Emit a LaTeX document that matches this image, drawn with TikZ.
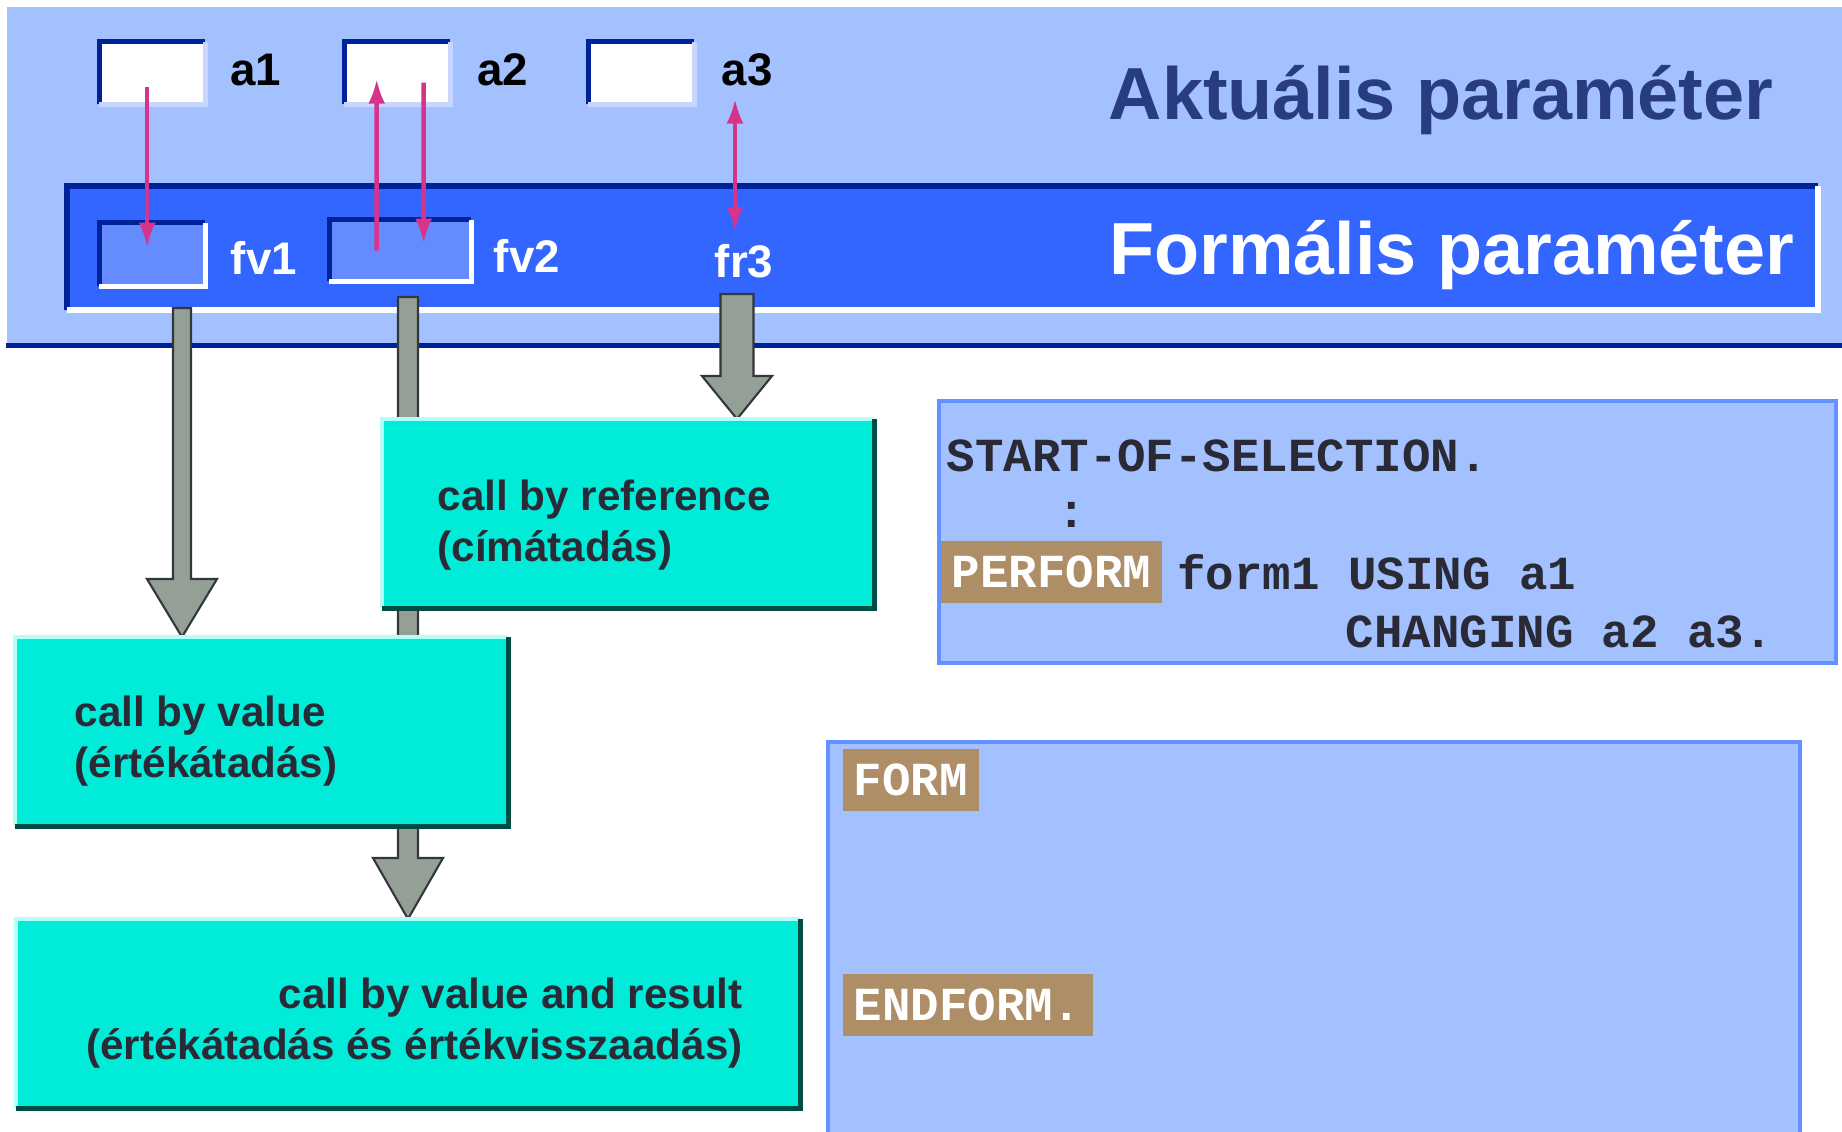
\documentclass[tikz,border=0pt]{standalone}
\usepackage{fontspec}
\setmainfont{Liberation Sans}
\setmonofont{Liberation Mono}
\usetikzlibrary{positioning,calc,arrows.meta}

\definecolor{panelblue}{RGB}{163,192,255}
\definecolor{barblue}{RGB}{51,102,255}
\definecolor{navy}{RGB}{0,34,153}
\definecolor{fvblue}{RGB}{100,140,255}
\definecolor{boxedge}{RGB}{200,214,255}
\definecolor{pinkarr}{RGB}{214,51,138}
\definecolor{arrgray}{RGB}{148,160,150}
\definecolor{arrline}{RGB}{50,55,60}
\definecolor{cyanbox}{RGB}{0,235,216}
\definecolor{cyanedge}{RGB}{180,255,250}
\definecolor{tealedge}{RGB}{0,77,69}
\definecolor{txtdark}{RGB}{42,42,54}
\definecolor{titlenavy}{RGB}{40,60,130}
\definecolor{codeborder}{RGB}{100,145,255}
\definecolor{tanbox}{RGB}{173,142,102}

\pgfdeclarelayer{front}
\pgfsetlayers{main,front}

% dark edge top/left, light edge bottom/right
\newcommand{\bevelbox}[4]{%
  \draw[#2, line width=#4] (#1.south west) -- (#1.north west) -- (#1.north east);
  \draw[#3, line width=#4] (#1.north east) -- (#1.south east) -- (#1.south west);}

% grey block arrow: start, tip, shaft half width, head length
\newcommand{\blockarrow}[4]{%
  \draw[blockarr] let \p1=(#1), \p2=(#2) in
    (\x1-#3,\y1) -- (\x1-#3,\y2+#4) -- (\x1-0.35cm,\y2+#4) -- (\x1,\y2)
    -- (\x1+0.35cm,\y2+#4) -- (\x1+#3,\y2+#4) -- (\x1+#3,\y1) -- cycle;}

\begin{document}
\begin{tikzpicture}[
  abox/.style={fill=white, minimum width=1.05cm, minimum height=0.61cm, inner sep=0, anchor=north west},
  fvbox/.style={fill=fvblue, inner sep=0, anchor=north west},
  lbl/.style={font=\fontsize{13}{15}\selectfont\bfseries},
  title/.style={font=\fontsize{21}{25}\selectfont\bfseries, inner sep=0},
  pinkarrow/.style={draw=pinkarr, line width=1.3pt, -{Latex[length=0.25cm,width=0.17cm]}},
  blockarr/.style={fill=arrgray, draw=arrline, line width=0.6pt, line join=miter},
  callbox/.style={fill=cyanbox, inner sep=0, minimum height=1.88cm, anchor=north west},
  calltext/.style={font=\fontsize{12}{14.5}\selectfont\bfseries, text=txtdark, inner sep=0},
  codebox/.style={fill=panelblue, draw=codeborder, line width=1.2pt, inner sep=0},
  code/.style={font=\fontsize{13.5}{16}\selectfont\ttfamily\bfseries, text=txtdark, inner sep=0, anchor=west},
  keyword/.style={fill=tanbox, text=white, font=\fontsize{13.5}{16}\selectfont\ttfamily\bfseries,
    inner xsep=0.11cm, inner ysep=0, minimum height=0.62cm, anchor=west}]

  \useasboundingbox (0,0) rectangle (18.42,-11.32);

  % --- panel of actual parameters ---
  \node[fill=panelblue, minimum width=18.5cm, minimum height=3.38cm, inner sep=0, anchor=north west] (actual) at (0.06,-0.06) {};
  \draw[navy, line width=0.05cm] (actual.south west) -- (actual.south east);
  \node[title, text=titlenavy, anchor=east] (akt) at (17.74,-1.0) {Aktuális paraméter};

  % --- bar of formal parameters ---
  \node[fill=barblue, minimum width=17.5cm, minimum height=1.23cm, inner sep=0, anchor=north west] (formal) at (0.67,-1.86) {};
  \bevelbox{formal}{navy}{white}{0.06cm}
  \node[title, text=white, anchor=east] (frm) at (17.95,-2.55) {Formális paraméter};

  % --- a1, a2, a3 ---
  \node[abox] (a1) at (0.99,-0.42) {};
  \node[abox] (a2) at (3.44,-0.42) {};
  \node[abox] (a3) at (5.88,-0.42) {};
  \foreach \n in {a1,a2,a3} {\bevelbox{\n}{navy}{boxedge}{0.05cm}}
  \node[lbl] (a1l) at (2.56,-0.70) {a1};
  \node[lbl] (a2l) at (5.03,-0.70) {a2};
  \node[lbl] (a3l) at (7.47,-0.70) {a3};

  % --- fv1, fv2, fr3 ---
  \node[fvbox, minimum width=1.05cm, minimum height=0.62cm] (fv1) at (0.99,-2.23) {};
  \node[fvbox, minimum width=1.41cm, minimum height=0.60cm] (fv2) at (3.29,-2.20) {};
  \foreach \n in {fv1,fv2} {\bevelbox{\n}{navy}{white}{0.05cm}}
  \node[lbl, text=white] (fv1l) at (2.64,-2.58) {fv1};
  \node[lbl, text=white] (fv2l) at (5.27,-2.56) {fv2};
  \node[lbl, text=white] (fr3) at (7.44,-2.61) {fr3};

  % --- copy arrows ---
  \draw[pinkarrow] ([shift={(-0.05,-0.14)}]a1.center) -- ([shift={(-0.05,0.07)}]fv1.center);
  \draw[pinkarrow] ([shift={(-0.235,0)}]fv2.center) -- ([shift={(-0.205,-0.055)}]a2.center);
  \draw[pinkarrow] ([shift={(0.265,-0.095)}]a2.center) -- ([shift={(0.235,0.07)}]fv2.center);
  \draw[pinkarrow, {Latex[length=0.25cm,width=0.17cm]}-{Latex[length=0.25cm,width=0.17cm]}]
    ([xshift=-0.12cm]a3l.south) -- ([xshift=-0.09cm]fr3.north);

  % --- PERFORM code ---
  \node[codebox, minimum width=8.97cm, minimum height=2.62cm, anchor=north west] (call) at (9.37,-3.99) {};
  \node[code] (sos) at (9.46,-4.56) {START-OF-SELECTION.};
  \node[code, anchor=center] (dots) at (10.72,-5.15) {:};
  \node[keyword] (perform) at (9.40,-5.72) {PERFORM};
  \node[code, right=0.14cm of perform] (using) {form1 USING a1};
  \node[code] (changing) at (13.45,-6.32) {CHANGING a2 a3.};

  % --- FORM code ---
  \node[codebox, minimum width=9.72cm, minimum height=4.3cm, anchor=north west] (formbody) at (8.26,-7.40) {};
  \node[keyword] (formkw) at (8.42,-7.795) {FORM};
  \node[keyword] (endkw) at (8.42,-10.05) {ENDFORM.};

  % --- kinds of call (in front of the grey arrows) ---
  \begin{pgfonlayer}{front}
    \node[callbox, minimum width=4.91cm] (ref) at (3.82,-4.19) {};
    \node[callbox, minimum width=4.92cm] (val) at (0.15,-6.37) {};
    \node[callbox, minimum width=7.83cm] (res) at (0.16,-9.19) {};
    \foreach \n in {ref,val,res} {\bevelbox{\n}{cyanedge}{tealedge}{0.045cm}}
    \node[calltext, align=left, anchor=west] (reftxt) at ([shift={(0.55,-0.11)}]ref.west)
      {call by reference\\(címátadás)};
    \node[calltext, align=left, anchor=west] (valtxt) at ([shift={(0.59,-0.09)}]val.west)
      {call by value\\(értékátadás)};
    \node[calltext, align=right, anchor=east] (restxt) at ([shift={(-0.57,-0.09)}]res.east)
      {call by value and result\\(értékátadás és értékvisszaadás)};
  \end{pgfonlayer}

  % --- grey arrows ---
  \coordinate (v1) at (1.82,-3.08);
  \coordinate (v2) at (4.08,-2.97);
  \coordinate (r3) at (7.37,-2.94);
  \blockarrow{v1}{v1 |- val.north}{0.09cm}{0.58cm}
  \blockarrow{v2}{v2 |- res.north}{0.10cm}{0.61cm}
  \blockarrow{r3}{r3 |- ref.north}{0.165cm}{0.43cm}

\end{tikzpicture}
\end{document}
